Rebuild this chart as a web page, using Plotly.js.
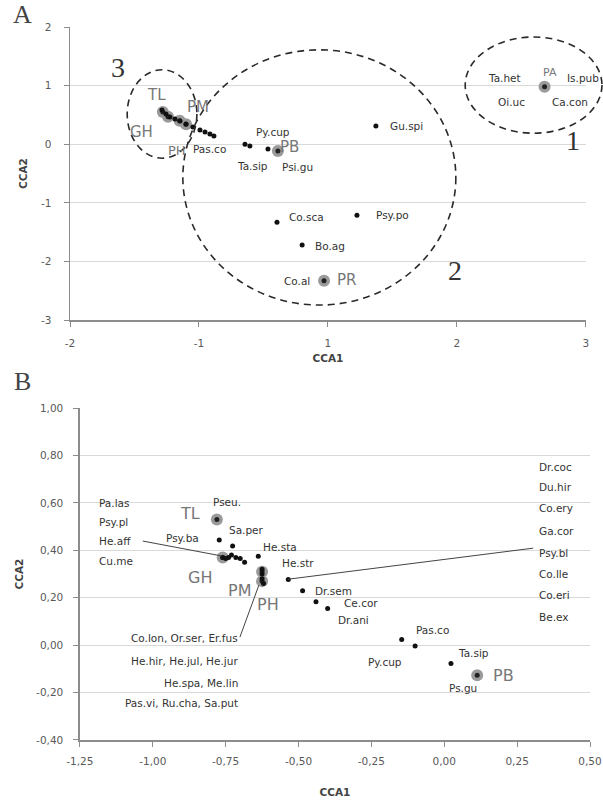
<!DOCTYPE html>
<html><head><meta charset="utf-8">
<script src="https://cdn.plot.ly/plotly-3.0.1.min.js"></script>
<style>body{margin:0;background:#fff}#c{width:603px;height:803px}</style>
</head><body><div id="c"></div>
<script>
// ---------- Panel A data (axis units) ----------
const aSpeciesX = [-1.287,-1.256,-1.225,-1.186,-1.147,-1.101,-1.047,-0.992,-0.953,-0.915,-0.884,-0.643,-0.605,-0.465,0.372,-0.395,0.225,-0.2];
const aSpeciesY = [0.584,0.515,0.464,0.430,0.396,0.345,0.294,0.242,0.208,0.174,0.140,0.0,-0.03,-0.082,0.31,-1.33,-1.21,-1.72];
const aSiteNames = ['TL','GH','PH','PM','PB','PR','PA'];
const aSiteX = [-1.28,-1.24,-1.15,-1.10,-0.388,-0.03,1.68];
const aSiteY = [0.55,0.47,0.40,0.34,-0.116,-2.33,0.98];
const aXTickVals = [-2,-1,0,1,2];
const aXTickText = ['-2','-1','1','2','3'];
const aYTickVals = [-3,-2,-1,0,1,2];
const aYTickText = ['-3','-2','-1','0','1','2'];

// labels panel A
const aLabText = ['Pas.co','Py.cup','Ta.sip','Psi.gu','Gu.spi','Co.sca','Psy.po','Bo.ag','Co.al','Ta.het','Is.pub','Oi.uc','Ca.con'];
const aLabX = [-0.915,-0.426,-0.581,-0.233,0.612,-0.163,0.504,0.016,-0.240,1.372,1.975,1.426,1.876];
const aLabY = [-0.082,0.208,-0.372,-0.389,0.311,-1.242,-1.208,-1.737,-2.334,1.130,1.130,0.720,0.720];
const aSiteLabText = ['TL','PM','GH','PH','PB','PR','PA'];
const aSiteLabX = [-1.326,-1.008,-1.442,-1.171,-0.295,0.147,1.721];
const aSiteLabY = [0.840,0.635,0.208,-0.099,-0.048,-2.317,1.232];
const aSiteLabSize = [15,15,15,13,15,15,11];

// ---------- Panel B data ----------
const bSpeciesX = [-0.772,-0.726,-0.76,-0.75,-0.74,-0.73,-0.715,-0.70,-0.685,-0.638,-0.625,-0.625,-0.625,-0.62,-0.535,-0.486,-0.44,-0.40,-0.146,-0.10,0.023];
const bSpeciesY = [0.443,0.418,0.37,0.365,0.37,0.38,0.37,0.365,0.35,0.375,0.32,0.30,0.28,0.26,0.277,0.229,0.183,0.155,0.024,-0.004,-0.077];
const bSiteNames = ['TL','GH','PM','PH','PB'];
const bSiteX = [-0.78,-0.76,-0.625,-0.625,0.113];
const bSiteY = [0.53,0.37,0.31,0.27,-0.127];
const bXTickVals = [-1.25,-1.0,-0.75,-0.5,-0.25,0,0.25,0.5];
const bXTickText = ['-1,25','-1,00','-0,75','-0,50','-0,25','0,00','0,25','0,50'];
const bYTickVals = [-0.4,-0.2,0,0.2,0.4,0.6,0.8,1.0];
const bYTickText = ['-0,40','-0,20','0,00','0,20','0,40','0,60','0,80','1,00'];

const bLabText = ['Pseu.','Psy.ba','Sa.per','He.sta','He.str','Dr.sem','Ce.cor','Dr.ani','Pas.co','Py.cup','Ta.sip','Ps.gu'];
const bLabX = [-0.745,-0.897,-0.677,-0.564,-0.502,-0.380,-0.285,-0.313,-0.039,-0.203,0.099,0.064];
const bLabY = [0.603,0.451,0.485,0.414,0.346,0.228,0.177,0.105,0.063,-0.072,-0.034,-0.181];
const bSiteLabText = ['TL','GH','PM','PH','PB'];
const bSiteLabX = [-0.873,-0.838,-0.701,-0.605,0.202];
const bSiteLabY = [0.557,0.287,0.232,0.173,-0.127];
const bLeftList = ['Pa.las','Psy.pl','He.aff','Cu.me'];
const bLeftY = [0.599,0.519,0.439,0.354];
const bRightList = ['Dr.coc','Du.hir','Co.ery','Ga.cor','Psy.bl','Co.lle','Co.eri','Be.ex'];
const bRightY = [0.751,0.667,0.578,0.481,0.388,0.300,0.211,0.118];
const bBottomList = ['Co.lon, Or.ser, Er.fus','He.hir, He.jul, He.jur','He.spa, Me.lin','Pas.vi, Ru.cha, Sa.put'];
const bBottomY = [0.030,-0.068,-0.160,-0.245];
// leader lines
const bLeaderX0 = [-1.034,-0.701,-0.536];
const bLeaderY0 = [0.439,0.034,0.278];
const bLeaderX1 = [-0.763,-0.636,0.305];
const bLeaderY1 = [0.376,0.253,0.409];

const FONT = 'DejaVu Sans, Verdana, sans-serif';
const SERIF = 'Liberation Serif, DejaVu Serif, serif';
const tickFont = {family: FONT, size: 10.5, color: '#595959'};
const LABSIZE = 10.5;

function siteTraces(xs, ys, xa, ya){
  return [
    {type:'scatter', mode:'markers', x:xs, y:ys, xaxis:xa, yaxis:ya, hoverinfo:'skip',
     marker:{size:12, color:'#9a9a9a', line:{width:0}}},
    {type:'scatter', mode:'markers', x:xs, y:ys, xaxis:xa, yaxis:ya, hoverinfo:'skip',
     marker:{size:5, color:'#222'}}
  ];
}
const data = [
  ...siteTraces(aSiteX, aSiteY, 'x', 'y'),
  {type:'scatter', mode:'markers', x:aSpeciesX, y:aSpeciesY, xaxis:'x', yaxis:'y',
   marker:{size:5, color:'#111'}, hoverinfo:'skip'},
  ...siteTraces(bSiteX, bSiteY, 'x2', 'y2'),
  {type:'scatter', mode:'markers', x:bSpeciesX, y:bSpeciesY, xaxis:'x2', yaxis:'y2',
   marker:{size:5, color:'#111'}, hoverinfo:'skip'}
];

const ann = [];
function lab(t,x,y,xr,yr,size,color,anchor,fam){
  ann.push({text:t,x:x,y:y,xref:xr,yref:yr,showarrow:false,xanchor:anchor||'center',yanchor:'middle',
    font:{family:fam||FONT,size:size,color:color}});
}
aLabText.forEach((t,i)=>lab(t,aLabX[i],aLabY[i],'x','y',LABSIZE,'#333'));
aSiteLabText.forEach((t,i)=>lab(t,aSiteLabX[i],aSiteLabY[i],'x','y',aSiteLabSize[i],'#777'));
bLabText.forEach((t,i)=>lab(t,bLabX[i],bLabY[i],'x2','y2',LABSIZE,'#333'));
bSiteLabText.forEach((t,i)=>lab(t,bSiteLabX[i],bSiteLabY[i],'x2','y2',16,'#777'));
bLeftList.forEach((t,i)=>lab(t,-1.192,bLeftY[i],'x2','y2',LABSIZE,'#333','left'));
bRightList.forEach((t,i)=>lab(t,0.318,bRightY[i],'x2','y2',LABSIZE,'#333','left'));
bBottomList.forEach((t,i)=>lab(t,-0.701,bBottomY[i],'x2','y2',LABSIZE,'#333','right'));
// group numbers and panel letters
lab('1',1.899,0.072,'x','y',28,'#333','center',SERIF);
lab('2',0.984,-2.147,'x','y',28,'#333','center',SERIF);
lab('3',-1.628,1.317,'x','y',28,'#333','center',SERIF);
lab('A',-0.092,1.017,'paper','paper',26,'#444','center',SERIF);
lab('B',-0.092,0.503,'paper','paper',26,'#444','center',SERIF);

const dashLine = {color:'#2a2a2a', width:1.6, dash:'7px,5px'};
const shapes = [
  {type:'circle', xref:'paper', yref:'paper', x0:0.760, x1:1.023, y0:0.851, y1:0.986, line:dashLine},
  {type:'circle', xref:'paper', yref:'paper', x0:0.217, x1:0.742, y0:0.610, y1:0.968, line:dashLine},
  {type:'circle', xref:'paper', yref:'paper', x0:0.110, x1:0.244, y0:0.816, y1:0.940, line:dashLine}
];
bLeaderX0.forEach((v,i)=>shapes.push({type:'line', xref:'x2', yref:'y2', x0:v, y0:bLeaderY0[i], x1:bLeaderX1[i], y1:bLeaderY1[i], line:{color:'#444', width:1}}));

const axBase = {showline:true, linecolor:'#8c8c8c', linewidth:1.5, ticks:'outside', tickcolor:'#8c8c8c', ticklen:5,
  zeroline:false, tickfont:tickFont, tickmode:'array', fixedrange:true};
const titleFont = {family:FONT,size:10.5,color:'#444'};
const layout = {
  width:603, height:803, margin:{l:70, r:13, t:27, b:63}, paper_bgcolor:'#fff', plot_bgcolor:'#fff',
  showlegend:false, font:{family:FONT},
  xaxis:Object.assign({}, axBase, {domain:[0,0.992], range:[-2,2], anchor:'y', showgrid:false,
    tickvals:aXTickVals, ticktext:aXTickText, ticklabelstandoff:8,
    title:{text:'<b>CCA1</b>', font:titleFont, standoff:6}}),
  yaxis:Object.assign({}, axBase, {domain:[0.589,1], range:[-3,2], anchor:'x', showgrid:true, gridcolor:'#d9d9d9',
    tickvals:aYTickVals, ticktext:aYTickText, ticklabelstandoff:10,
    title:{text:'<b>CCA2</b>', font:titleFont, standoff:11}}),
  xaxis2:Object.assign({}, axBase, {domain:[0.019,1], range:[-1.25,0.5], anchor:'y2', showgrid:false,
    tickvals:bXTickVals, ticktext:bXTickText, ticklabelstandoff:6,
    title:{text:'<b>CCA1</b>', font:titleFont, standoff:22}}),
  yaxis2:Object.assign({}, axBase, {domain:[0,0.4656], range:[-0.4,1.0], anchor:'x2', showgrid:true, gridcolor:'#d9d9d9',
    tickvals:bYTickVals, ticktext:bYTickText, ticklabelstandoff:8,
    title:{text:'<b>CCA2</b>', font:titleFont, standoff:10}}),
  annotations:ann, shapes:shapes
};
Plotly.newPlot('c', data, layout, {staticPlot:true, displayModeBar:false});
</script></body></html>
